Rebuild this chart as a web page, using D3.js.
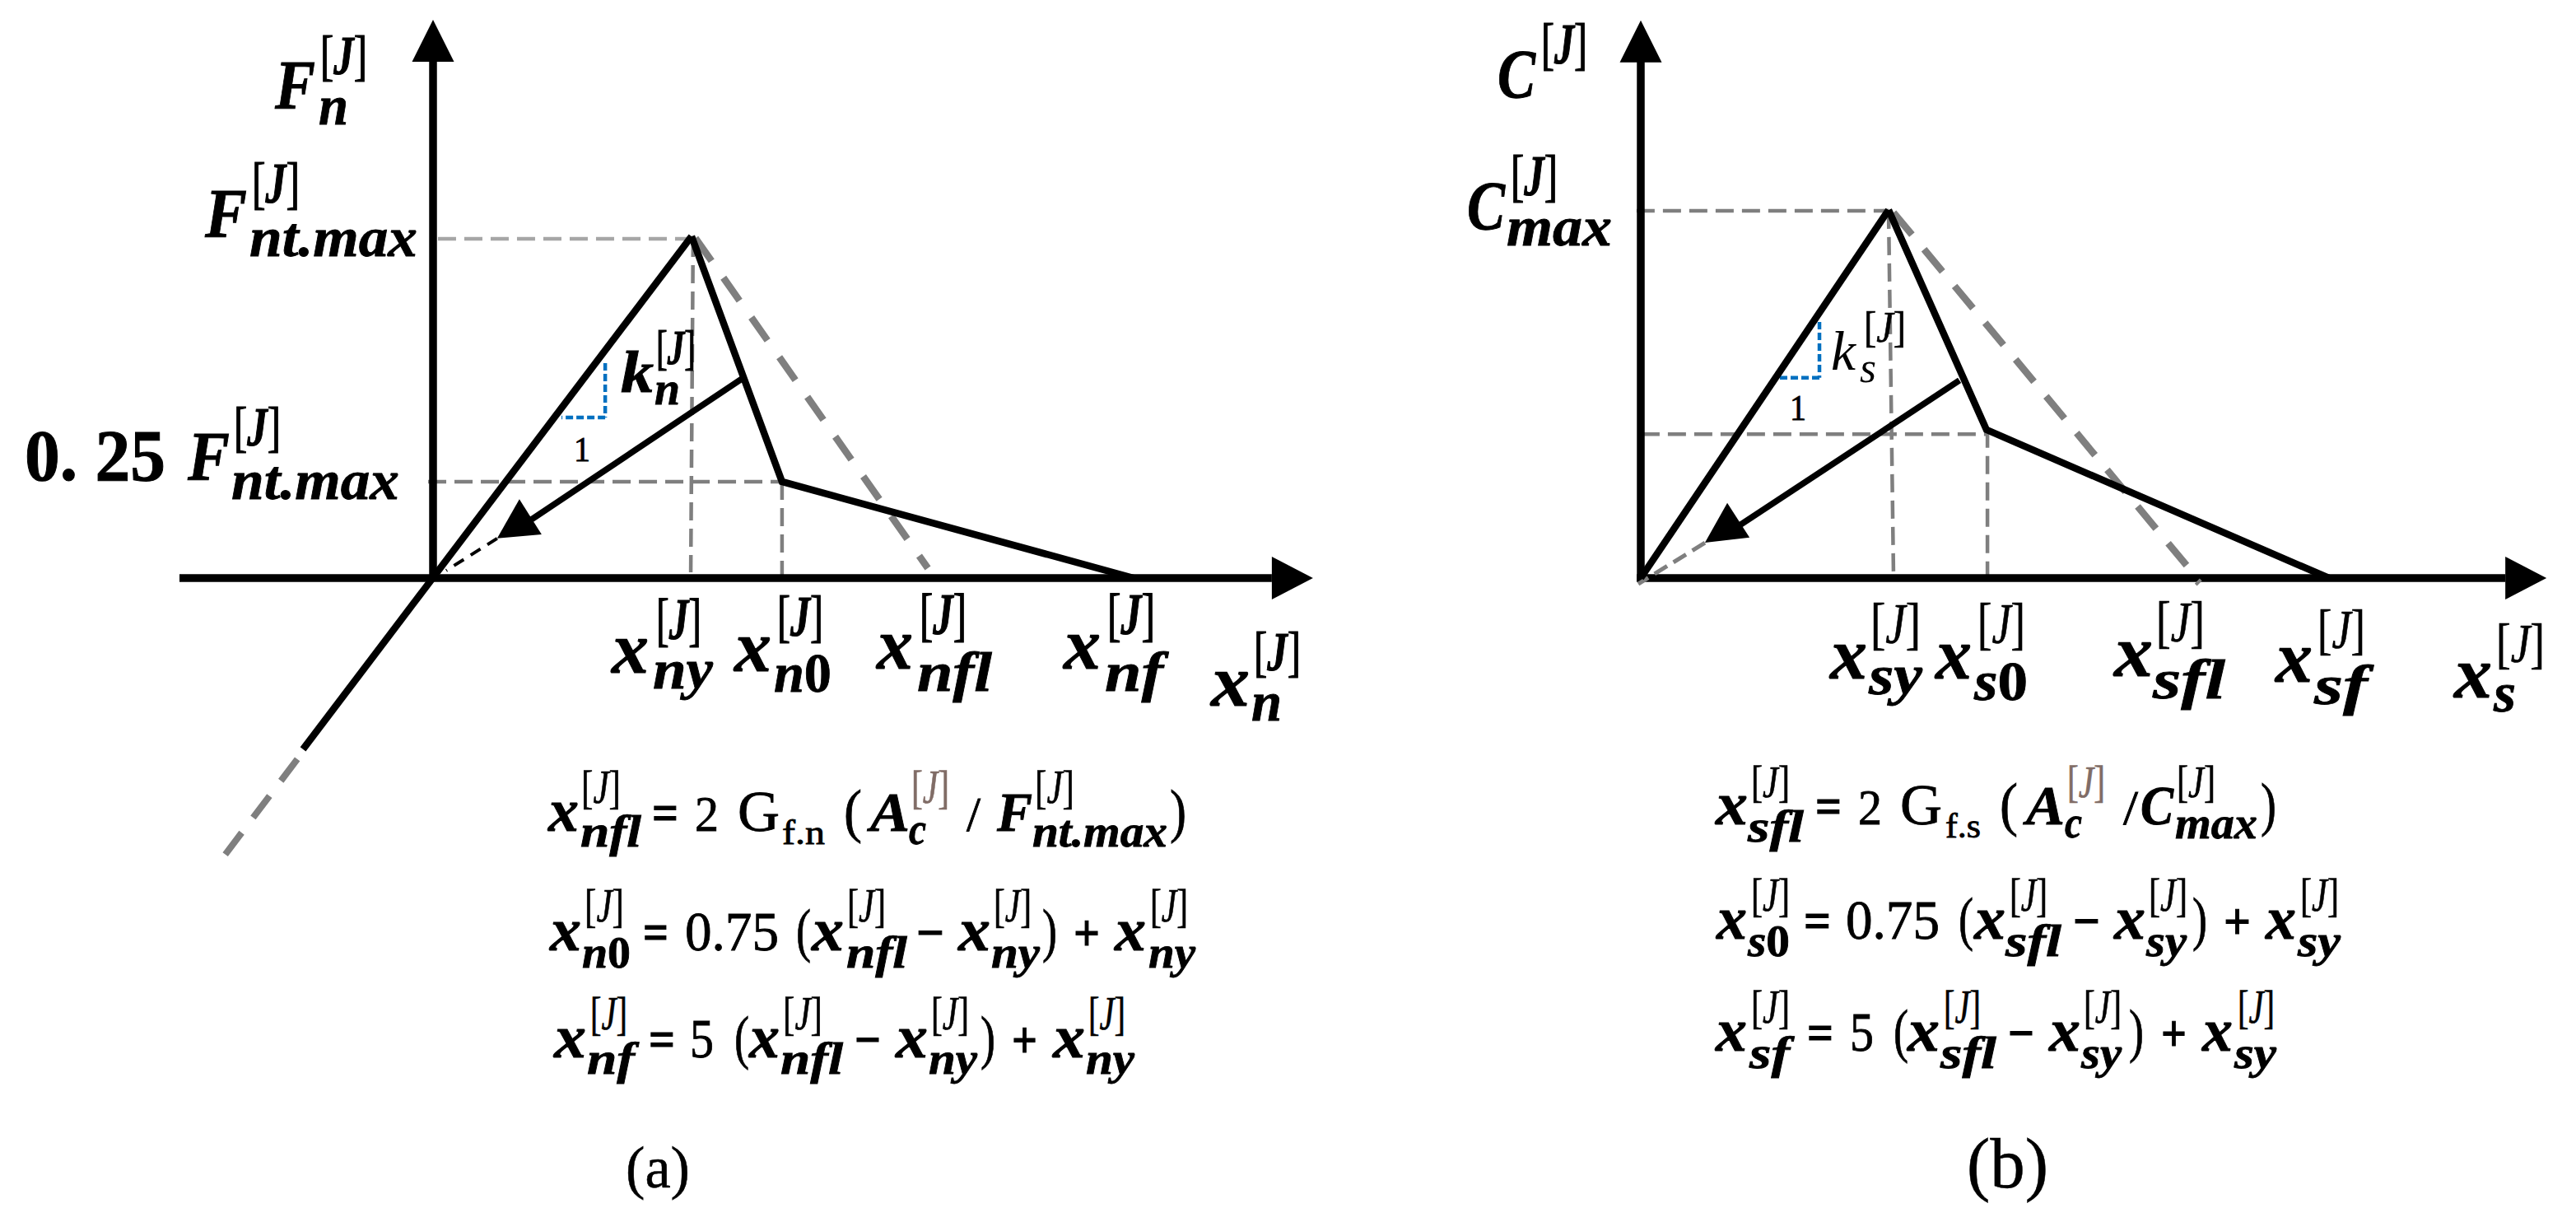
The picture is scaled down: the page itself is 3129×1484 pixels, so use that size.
<!DOCTYPE html>
<html><head><meta charset="utf-8">
<script src="https://cdn.jsdelivr.net/npm/d3@7/dist/d3.min.js"></script>
<style>html,body{margin:0;padding:0;background:#fff}svg{display:block}text{font-family:"Liberation Serif",serif;fill:#000;white-space:pre}</style>
</head><body><svg id="c" width="3129" height="1484" viewBox="0 0 3129 1484"></svg>
<script>
// ---- values (x in units of the yield displacement, y in units of the peak) ----
const aAxisX=[-0.98,3.404], aAxisY=[1.634];
const aLoading=[[-0.503,-0.501],[1,1]];
const aSoftening=[[1,1],[1.35,0.282],[2.71,0]];
const aLinear=[[1.015,0.995],[1.914,0.029]];
const aUnload=[[1.194,0.583],[0.376,0.169]];
const aUnloadHead=[[0.334,0.231],[0.42,0.128],[0.248,0.116]];
const aReload=[[0.248,0.116],[0.051,0.022]];
const aTail=[[-0.525,-0.53],[-0.809,-0.814]];
const aGuides=[[[0.019,0.993],[1,0.993]],[[-0.019,0.282],[1.35,0.282]],[[1.006,0.993],[0.997,0.017]],[[1.35,0.282],[1.35,-0.007]]];
const aBlue=[[[0.666,0.629],[0.666,0.47]],[[0.666,0.47],[0.497,0.47]]];

const bAxisX=[0,3.655], bAxisY=[1.515];
const bLoading=[[0,0],[1,1]];
const bSoftening=[[1,1],[1.395,0.403],[2.777,0]];
const bLinear=[[1.02,0.993],[2.203,0.034]];
const bLinearEnd=[[2.24,-0.018],[2.26,-0.004]];
const bUnload=[[1.286,0.537],[0.389,0.139]];
const bUnloadHead=[[0.349,0.204],[0.439,0.11],[0.259,0.096]];
const bReload=[[0.259,0.096],[-0.01,-0.016]];
const bGuides=[[[-0.017,0.998],[1,0.998]],[[0.003,0.391],[1.395,0.391]],[[1,0.998],[1.02,0.004]],[[1.399,0.403],[1.399,-0.007]]];
const bBlue=[[[0.721,0.696],[0.721,0.544]],[[0.721,0.544],[0.551,0.544]]];

const panelLabels=['(a)','(b)'];
const supText='J';
// ---- layout ----
const svg=d3.select('#c');
const xA=d3.scaleLinear().domain([0,1]).range([526,840]);
const yA=d3.scaleLinear().domain([0,1]).range([702,287]);
const xB=d3.scaleLinear().domain([0,1]).range([1993,2294]);
const yB=d3.scaleLinear().domain([0,1]).range([702,255]);

function draw(x,y,pts,st){
  const l=d3.line().x(d=>x(d[0])).y(d=>y(d[1]));
  svg.append('path').attr('d',l(pts)).attr('fill','none')
    .attr('stroke',st.c||'#000').attr('stroke-width',st.w)
    .attr('stroke-dasharray',st.d||null).attr('stroke-linejoin','miter');
}
function fillTri(x,y,pts){
  const l=d3.line().x(d=>x(d[0])).y(d=>y(d[1]));
  svg.append('path').attr('d',l(pts)+'Z').attr('fill','#000');
}
function axes(x,y,xr,yr,left){
  const x0=x(0),y0=y(0),xt=x(xr[1]),yt=y(yr[0]);
  svg.append('path').attr('d',`M${left},${y0}H${xt-50}`).attr('stroke','#000').attr('stroke-width',9.5).attr('fill','none');
  svg.append('path').attr('d',`M${x0},${y0+4}V${yt+50}`).attr('stroke','#000').attr('stroke-width',9.5).attr('fill','none');
  svg.append('path').attr('d',`M${xt},${y0}L${xt-50},${y0-26}V${y0+26}Z`).attr('fill','#000');
  svg.append('path').attr('d',`M${x0},${yt}L${x0-25.5},${yt+51}H${x0+25.5}Z`).attr('fill','#000');
}
const G='#7f7f7f';
function panel(x,y,d){
  d.guides.forEach((g,i)=>draw(x,y,g,{c:(d.firstLight&&i==0)?'#a6a6a6':G,w:4.5,d:'22 10'}));
  axes(x,y,d.ax,d.ay,d.left);
  draw(x,y,d.linear,{c:G,w:8.5,d:d.linDash});
  if(d.linearEnd) draw(x,y,d.linearEnd,{c:G,w:4});
  d.blue.forEach(b=>draw(x,y,b,{c:'#0070c0',w:4.5,d:'9 4'}));
  draw(x,y,d.reload,d.reloadStyle);
  if(d.tail) draw(x,y,d.tail,{c:G,w:8,d:'33 23'});
  draw(x,y,d.loading,{w:8.5});
  draw(x,y,d.soft,{w:8.5});
  draw(x,y,d.unload,{w:7.5});
  fillTri(x,y,d.head);
}
panel(xA,yA,{guides:aGuides,firstLight:true,ax:aAxisX,ay:aAxisY,left:218,linear:aLinear,linDash:'34 25',blue:aBlue,reload:aReload,
  reloadStyle:{c:'#000',w:4,d:'14 10'},tail:aTail,loading:aLoading,soft:aSoftening,unload:aUnload,head:aUnloadHead});
panel(xB,yB,{guides:bGuides,ax:bAxisX,ay:bAxisY,left:1988,linear:bLinear,linDash:'35 23',linearEnd:bLinearEnd,blue:bBlue,reload:bReload,
  reloadStyle:{c:G,w:5,d:'18 9'},loading:bLoading,soft:bSoftening,unload:bUnload,head:bUnloadHead});

// ---- text helpers ----
function heavy(t,w){ return t.style('stroke','currentColor').style('stroke-width',w); }
function fit(str,x0,x1,yb,size,o={}){
  const t=svg.append('text').attr('x',x0).attr('y',yb).attr('font-size',size)
    .attr('font-weight',o.w||'normal').attr('font-style',o.s||'normal').style('fill',o.c||'#000').style('color',o.c||'#000');
  if(x1!=null) t.attr('textLength',x1-x0).attr('lengthAdjust','spacingAndGlyphs');
  t.text(str); if(o.k) heavy(t,o.k); return t;
}
function sub(str,x0,x1,yb,size,w){
  const t=svg.append('text').attr('x',x0).attr('y',yb).attr('font-size',size).attr('font-weight',w).style('color','#000')
    .attr('textLength',x1-x0).attr('lengthAdjust','spacingAndGlyphs');
  (str.match(/\d+|[^\d]+/g)||[]).forEach(p=>t.append('tspan').attr('font-style',/\d/.test(p)?'normal':'italic').text(p));
  if(w=='bold') heavy(t,0.8);
}
function sup(x0,x1,top,bot,o={}){
  const size=(bot-top)/0.818, yb=bot-0.156*size;
  const t=svg.append('text').attr('x',x0).attr('y',yb).attr('font-size',size).style('fill',o.c||'#000').style('color',o.c||'#000')
    .attr('textLength',x1-x0).attr('lengthAdjust','spacingAndGlyphs');
  t.append('tspan').text('[');
  t.append('tspan').attr('font-style','italic').attr('font-weight',o.w||'normal').text(supText);
  t.append('tspan').text(']');
  heavy(t,o.k||0.8);
}
// [base, subscript, base x0,x1,baseline,size, sup x0,x1,top,bottom, sub x0,x1,baseline,size, options]
function term(r){
  const o=r[14]||{}; const w=o.w||'bold';
  fit(r[0],r[2],r[3],r[4],r[5],{w:w,s:'italic',k:w=='bold'?0.9:0});
  sup(r[6],r[7],r[8],r[9],{w:o.sw||'normal',c:o.sc,k:o.sw?1.2:0.7});
  if(r[1]) sub(r[1],r[10],r[11],r[12],r[13],w);
}
const axisTerms=[
 ['F','n',334,383,132,84,389,446,45,101,387,423,151,68,{sw:'bold'}],
 ['F','nt.max',249,300,288,84,306,364,200,257,303,507,311,68,{sw:'bold'}],
 ['F','nt.max',228,279,583,84,284,341,496,552,281,485,606,68,{sw:'bold'}],
 ['k','n',754,794,476,72,797,845,403,451,795,826,491,56,{sw:'bold'}],
 ['x','ny',743,788,817,89,797,852,729,787,793,866,836,68,{sw:'bold'}],
 ['x','n0',892,937,815,89,944,1000,726,783,940,1010,840,68,{sw:'bold'}],
 ['x','nfl',1065,1109,812,89,1117,1174,723,781,1114,1205,839,68,{sw:'bold'}],
 ['x','nf',1292,1337,812,89,1345,1403,723,781,1342,1413,839,68,{sw:'bold'}],
 ['x','n',1471,1518,857,89,1523,1580,769,825,1520,1557,875,68,{sw:'bold'}],
 ['C','',1819,1865,119,84,1872,1928,31,88,0,0,0,0,{sw:'bold'}],
 ['C','max',1782,1828,279,84,1835,1892,191,248,1830,1958,298,68,{sw:'bold'}],
 ['k','s',2224,2254,449,68,2264,2315,379,423,2259,2279,464,52,{w:'normal'}],
 ['x','sy',2223,2268,824,89,2272,2333,735,792,2270,2335,843,68],
 ['x','s0',2351,2395,824,89,2402,2460,735,792,2398,2463,850,68],
 ['x','sfl',2568,2615,821,89,2619,2678,733,790,2615,2703,848,68],
 ['x','sf',2764,2809,828,89,2815,2873,742,798,2811,2876,855,68],
 ['x','s',2981,3027,847,89,3032,3091,759,815,3029,3056,864,68]
];
const formulaTerms=[
 ['x','nfl',666,703,1009,74,706,754,937,984,705,779,1028,54],
 ['A','c',1057,1105,1009,68,1107,1153,937,984,1104,1125,1025,54,{sc:'#806c66'}],
 ['F','nt.max',1211,1254,1009,68,1257,1305,937,984,1254,1418,1028,54],
 ['x','n0',668,706,1154,74,710,758,1082,1128,707,766,1175,54],
 ['x','nfl',986,1025,1154,74,1029,1076,1082,1128,1028,1102,1175,54],
 ['x','ny',1164,1203,1154,74,1207,1253,1082,1128,1204,1263,1175,54],
 ['x','ny',1354,1392,1154,74,1397,1443,1082,1128,1395,1452,1175,54],
 ['x','nf',673,712,1284,74,717,762,1213,1259,713,771,1304,54],
 ['x','nfl',910,947,1284,74,951,999,1213,1259,948,1024,1304,54],
 ['x','ny',1088,1127,1284,74,1131,1177,1213,1259,1128,1187,1304,54],
 ['x','ny',1279,1318,1284,74,1322,1367,1213,1259,1319,1378,1304,54],
 ['x','sfl',2084,2123,1001,74,2127,2174,932,977,2123,2191,1022,54],
 ['A','c',2461,2508,1001,68,2511,2557,932,977,2508,2529,1017,54,{sc:'#806c66'}],
 ['C','max',2600,2640,1001,68,2644,2691,932,977,2642,2742,1018,54],
 ['x','s0',2085,2122,1140,74,2127,2174,1069,1115,2123,2174,1161,54],
 ['x','sfl',2398,2436,1140,74,2441,2487,1069,1115,2436,2504,1161,54],
 ['x','sy',2568,2606,1140,74,2610,2657,1069,1115,2607,2656,1161,54],
 ['x','sy',2752,2789,1140,74,2794,2841,1069,1115,2791,2843,1161,54],
 ['x','sf',2084,2122,1276,74,2127,2174,1205,1251,2125,2174,1297,54],
 ['x','sfl',2317,2356,1276,74,2361,2406,1205,1251,2357,2425,1297,54],
 ['x','sy',2489,2527,1276,74,2531,2577,1205,1251,2528,2577,1297,54],
 ['x','sy',2675,2712,1276,74,2718,2763,1205,1251,2714,2765,1297,54]
];
axisTerms.forEach(term); formulaTerms.forEach(term);
// plain runs: [text, x0, x1, baseline, size, weight]
const plain=[
 ['0. 25',30,201,583,88,'bold'],['1',697,717,560,43,'normal'],['1',2174,2194,510,45,'normal'],
 ['=',792,824,1009,64,'bold'],['2',844,873,1009,62,'normal'],['G',896,947,1009,70,'normal'],['f.n',950,1002,1025,42,'normal'],
 ['(',1025,1047,1009,72,'normal'],['/',1174,1191,1009,60,'normal'],[')',1421,1441,1009,72,'normal'],
 ['=',781,812,1154,64,'bold'],['0.75',832,946,1154,68,'normal'],['(',967,985,1154,72,'normal'],['\u2212',1113,1147,1154,64,'bold'],[')',1266,1284,1154,72,'normal'],['+',1304,1336,1154,64,'bold'],
 ['=',788,820,1284,64,'bold'],['5',838,867,1284,68,'normal'],['(',892,910,1284,72,'normal'],['\u2212',1038,1070,1284,64,'bold'],[')',1191,1209,1284,72,'normal'],['+',1229,1260,1284,64,'bold'],
 ['=',2205,2237,1001,64,'bold'],['2',2257,2286,1001,62,'normal'],['G',2308,2359,1001,70,'normal'],['f.s',2363,2406,1017,42,'normal'],
 ['(',2429,2451,1001,72,'normal'],['/',2579,2597,1001,60,'normal'],[')',2746,2765,1001,72,'normal'],
 ['=',2191,2224,1140,64,'bold'],['0.75',2242,2356,1140,68,'normal'],['(',2379,2397,1140,72,'normal'],['\u2212',2518,2551,1140,64,'bold'],[')',2663,2681,1140,72,'normal'],['+',2701,2734,1140,64,'bold'],
 ['=',2195,2227,1276,64,'bold'],['5',2247,2276,1276,68,'normal'],['(',2300,2318,1276,72,'normal'],['\u2212',2439,2471,1276,64,'bold'],[')',2586,2604,1276,72,'normal'],['+',2625,2656,1276,64,'bold']
];
plain.forEach(r=>fit(r[0],r[1],r[2],r[3],r[4],{w:r[5],k:r[5]=='bold'?1:0.8}));
fit(panelLabels[0],760,838,1442,72,{k:0.5});
fit(panelLabels[1],2389,2488,1442,86,{k:0.5});
</script></body></html>
